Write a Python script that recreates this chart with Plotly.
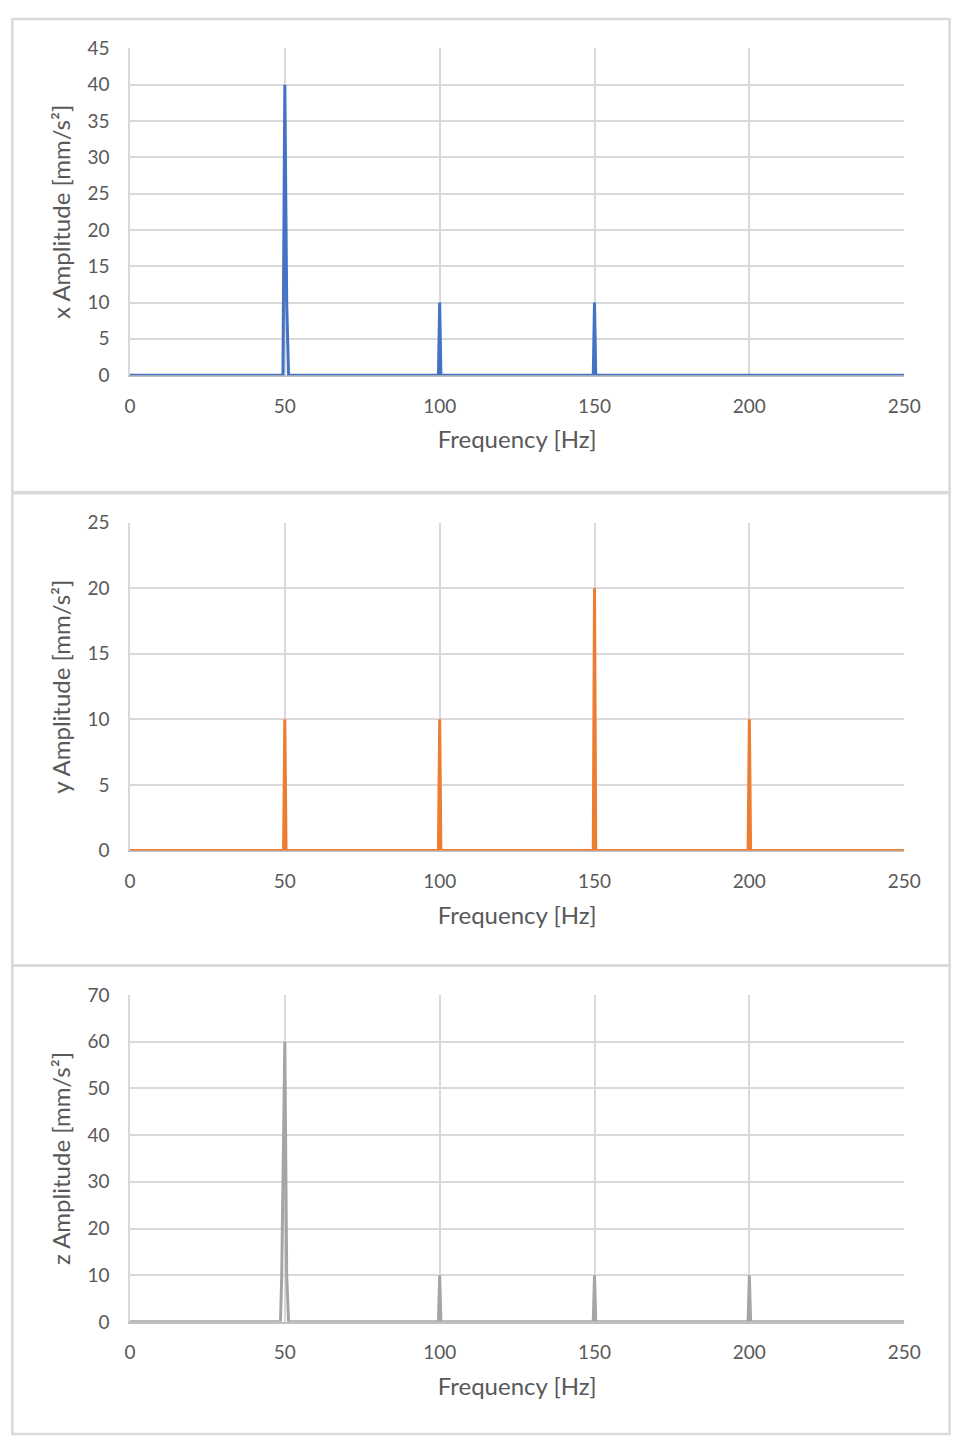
import plotly.graph_objects as go

# ---- data ----
x_freq = [0, 49.4, 50.0, 50.6, 51.2, 99.6, 100.0, 100.4, 149.6, 150.0, 150.4, 250]
x_amp  = [0, 0,    40,   10,   0,    0,    10,    0,     0,     10,    0,     0]

y_freq = [0, 49.6, 50.0, 50.4, 99.6, 100.0, 100.4, 149.6, 150.0, 150.4, 199.6, 200.0, 200.4, 250]
y_amp  = [0, 0,    10,   0,    0,    10,    0,     0,     20,    0,     0,     10,    0,     0]

z_freq = [0, 48.6, 49.0, 50.0, 50.6, 51.2, 99.6, 100.0, 100.4, 149.6, 150.0, 150.4, 199.6, 200.0, 200.4, 250]
z_amp  = [0, 0,    10,   60,   10,   0,    0,    10,    0,     0,     10,    0,     0,     10,    0,     0]

x_ticks = [0, 50, 100, 150, 200, 250]
titles = ["x Amplitude [mm/s²]", "y Amplitude [mm/s²]", "z Amplitude [mm/s²]"]
y_max = [45, 25, 70]
y_step = [5, 5, 10]
colors = ["#4472C4", "#ED7D31", "#A5A5A5"]

W, H = 970, 1448
plot_px = [(37, 369), (519, 852), (999, 1331)]
panel_px = [(7, 488), (489, 969), (969, 1445)]
x_left, x_right = 127, 920

FONT = "Lato, Carlito, Calibri, sans-serif"
fig = go.Figure()
series = [(x_freq, x_amp), (y_freq, y_amp), (z_freq, z_amp)]
for i, (f, a) in enumerate(series):
    n = "" if i == 0 else str(i + 1)
    fig.add_trace(go.Scatter(x=f, y=a, mode="lines",
                             line=dict(color=colors[i], width=3),
                             xaxis="x" + n, yaxis="y" + n, showlegend=False,
                             hoverinfo="skip", cliponaxis=False))
    top, bot = plot_px[i]
    tick_font = dict(family=FONT, size=19, color="#595959")
    title_font = dict(family=FONT, size=24, color="#595959")
    fig.layout["xaxis" + n] = dict(
        domain=[x_left / W, x_right / W], anchor="y" + n,
        range=[0, 250], tickvals=x_ticks, showgrid=True, gridcolor="#d9d9d9",
        gridwidth=1.5, zeroline=False, showline=True, linecolor="#bfbfbf", linewidth=1.5,
        layer="below traces",
        ticks="outside", ticklen=13, tickcolor="rgba(0,0,0,0)", tickfont=tick_font,
        title=dict(text="Frequency [Hz]", font=title_font, standoff=16),
    )
    fig.layout["yaxis" + n] = dict(
        domain=[1 - bot / H, 1 - top / H], anchor="x" + n,
        range=[0, y_max[i]], dtick=y_step[i], tick0=0, showgrid=True, gridcolor="#d9d9d9",
        gridwidth=1.5, zeroline=False, showline=True, linecolor="#d9d9d9", linewidth=1.5,
        layer="below traces",
        ticks="outside", ticklen=15, tickcolor="rgba(0,0,0,0)", tickfont=tick_font,
        title=dict(text=titles[i], font=title_font, standoff=10),
    )
    p_top, p_bot = panel_px[i]
    fig.add_shape(type="rect", xref="paper", yref="paper",
                  x0=6.5 / W, x1=966.5 / W, y0=1 - p_bot / H, y1=1 - p_top / H,
                  line=dict(color="#d9d9d9", width=2.5), fillcolor="rgba(0,0,0,0)", layer="below")

fig.update_layout(width=W, height=H, margin=dict(l=0, r=0, t=0, b=0),
                  paper_bgcolor="white", plot_bgcolor="white")
fig.write_html("out.html",
               post_script="document.body.style.margin='0';document.body.style.overflow='hidden';")
